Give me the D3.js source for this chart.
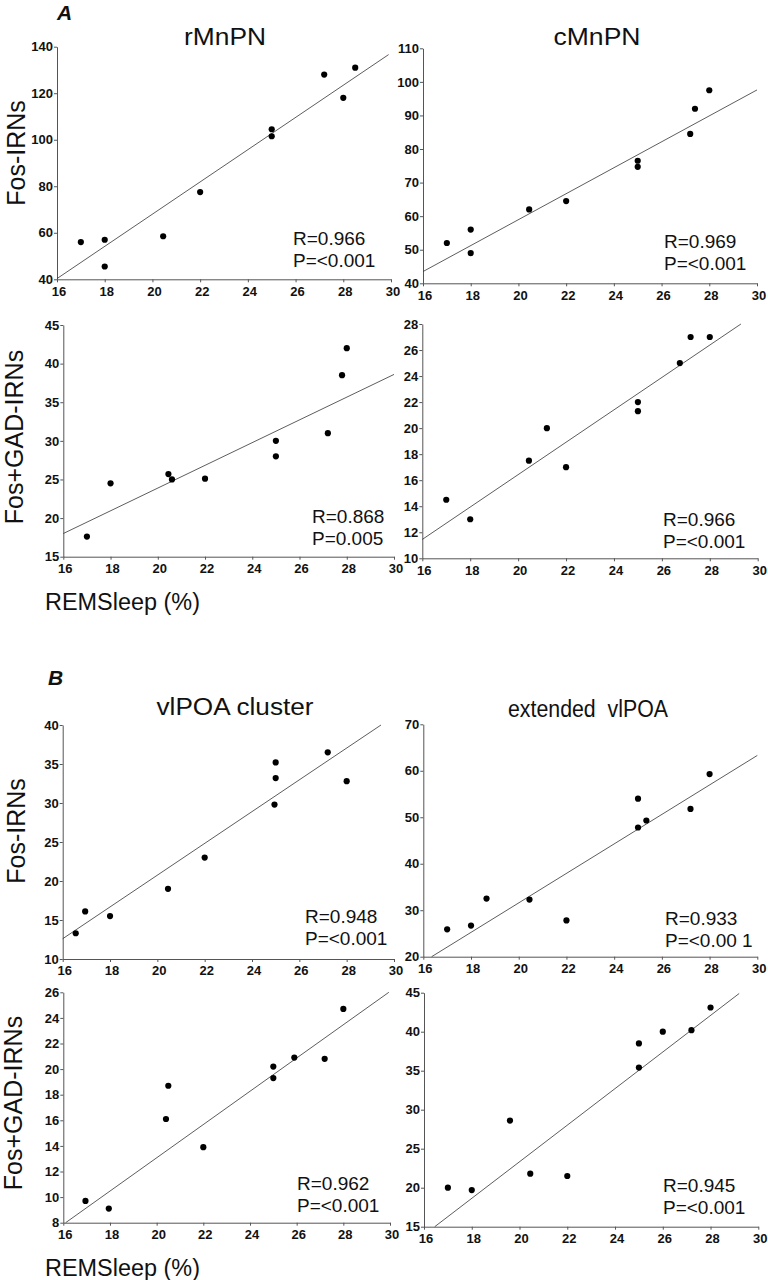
<!DOCTYPE html>
<html>
<head>
<meta charset="utf-8">
<script src="https://cdn.jsdelivr.net/npm/d3@7"></script>
<style>
  html, body { margin: 0; padding: 0; background: #fff; }
  svg { display: block; font-family: "Liberation Sans", Arial, sans-serif; }
</style>
</head>
<body>
<svg id="chart" width="768" height="1280"></svg>
<script>
// ---------- data ----------
const xTicks = [16, 18, 20, 22, 24, 26, 28, 30];

// A: rMnPN Fos-IRNs
const rMnPN_fos_x = [17, 18, 18, 20.45, 22, 25, 25, 27.2, 28, 28.5];
const rMnPN_fos_y = [56, 57, 45.5, 58.5, 77.5, 104.5, 101.5, 128, 118, 131];
const rMnPN_fos_fit = [[16, 40.3], [29.9, 136.6]];
const rMnPN_fos_yTicks = [40, 60, 80, 100, 120, 140];

// A: cMnPN Fos-IRNs
const cMnPN_fos_x = [17, 18, 18, 20.45, 22, 25, 25, 27.2, 27.4, 28];
const cMnPN_fos_y = [52, 56, 49, 62, 64.5, 76.5, 74.7, 84.5, 92, 97.5];
const cMnPN_fos_fit = [[16, 43.5], [30, 97.6]];
const cMnPN_fos_yTicks = [40, 50, 60, 70, 80, 90, 100, 110];

// A: rMnPN Fos+GAD-IRNs
const rMnPN_gad_x = [17, 18, 20.45, 20.6, 22, 25, 25, 27.2, 27.8, 28];
const rMnPN_gad_y = [17.6, 24.5, 25.7, 25, 25.1, 30, 28, 31, 38.5, 42];
const rMnPN_gad_fit = [[16, 18], [30, 38.6]];
const rMnPN_gad_yTicks = [15, 20, 25, 30, 35, 40, 45];

// A: cMnPN Fos+GAD-IRNs
const cMnPN_gad_x = [17, 18, 20.45, 21.2, 22, 25, 25, 26.75, 27.2, 28];
const cMnPN_gad_y = [14.5, 13, 17.5, 20, 17, 22, 21.3, 25, 27, 27];
const cMnPN_gad_fit = [[16, 11.45], [29.3, 28]];
const cMnPN_gad_yTicks = [10, 12, 14, 16, 18, 20, 22, 24, 26, 28];

// B: vlPOA cluster Fos-IRNs
const cluster_fos_x = [16.55, 16.95, 18, 20.45, 22, 24.95, 25, 25, 27.2, 28];
const cluster_fos_y = [13.3, 16.1, 15.5, 19, 23, 29.8, 33.2, 35.2, 36.5, 32.8];
const cluster_fos_fit = [[16, 12.6], [29.45, 40]];
const cluster_fos_yTicks = [10, 15, 20, 25, 30, 35, 40];

// B: extended vlPOA Fos-IRNs
const extended_fos_x = [17, 18, 18.65, 20.45, 22, 25, 25, 25.35, 27.2, 28];
const extended_fos_y = [25.9, 26.7, 32.5, 32.3, 27.8, 54, 47.8, 49.3, 51.8, 59.3];
const extended_fos_fit = [[16.35, 20], [30, 63.3]];
const extended_fos_yTicks = [20, 30, 40, 50, 60, 70];

// B: vlPOA cluster Fos+GAD-IRNs
const cluster_gad_x = [16.95, 17.95, 20.4, 20.5, 22, 25, 25, 25.9, 27.2, 28];
const cluster_gad_y = [9.7, 9.1, 16.1, 18.7, 13.9, 19.3, 20.2, 20.9, 20.8, 24.7];
const cluster_gad_fit = [[16.1, 8], [29.95, 26]];
const cluster_gad_yTicks = [8, 10, 12, 14, 16, 18, 20, 22, 24, 26];

// B: extended vlPOA Fos+GAD-IRNs
const extended_gad_x = [17, 18, 19.6, 20.45, 22, 25, 25, 26, 27.2, 28];
const extended_gad_y = [20, 19.7, 28.6, 21.8, 21.5, 38.5, 35.4, 40, 40.2, 43.1];
const extended_gad_fit = [[16.45, 15], [29.2, 44.9]];
const extended_gad_yTicks = [15, 20, 25, 30, 35, 40, 45];

const stats = [
  ["R=0.966", "P=<0.001"], ["R=0.969", "P=<0.001"],
  ["R=0.868", "P=0.005"],  ["R=0.966", "P=<0.001"],
  ["R=0.948", "P=<0.001"], ["R=0.933", "P=<0.00 1"],
  ["R=0.962", "P=<0.001"], ["R=0.945", "P=<0.001"]
];

// ---------- layout ----------
const panels = [
  { x: rMnPN_fos_x, y: rMnPN_fos_y, fit: rMnPN_fos_fit, yTicks: rMnPN_fos_yTicks,
    px: [57, 391], py: [279.3, 46.7], st: [293, 245] },
  { x: cMnPN_fos_x, y: cMnPN_fos_y, fit: cMnPN_fos_fit, yTicks: cMnPN_fos_yTicks,
    px: [423, 757], py: [283.3, 48.3], st: [664, 248] },
  { x: rMnPN_gad_x, y: rMnPN_gad_y, fit: rMnPN_gad_fit, yTicks: rMnPN_gad_yTicks,
    px: [63.3, 394], py: [556.7, 325], st: [312, 523] },
  { x: cMnPN_gad_x, y: cMnPN_gad_y, fit: cMnPN_gad_fit, yTicks: cMnPN_gad_yTicks,
    px: [422.3, 757.7], py: [558.3, 324], st: [663, 526] },
  { x: cluster_fos_x, y: cluster_fos_y, fit: cluster_fos_fit, yTicks: cluster_fos_yTicks,
    px: [62.7, 394], py: [959, 725], st: [305, 923] },
  { x: extended_fos_x, y: extended_fos_y, fit: extended_fos_fit, yTicks: extended_fos_yTicks,
    px: [423.3, 757.3], py: [956.7, 724.3], st: [665, 925] },
  { x: cluster_gad_x, y: cluster_gad_y, fit: cluster_gad_fit, yTicks: cluster_gad_yTicks,
    px: [63.3, 390], py: [1222.7, 992.3], st: [297, 1190] },
  { x: extended_gad_x, y: extended_gad_y, fit: extended_gad_fit, yTicks: extended_gad_yTicks,
    px: [424, 758.3], py: [1226.7, 992.7], st: [663, 1192] }
];

const FONT = '"Liberation Sans", Arial, sans-serif';
const svg = d3.select("#chart");

function styleTicks(a) {
  a.attr("font-family", FONT).attr("font-size", 13);
  a.selectAll(".tick text").attr("font-weight", "bold").attr("fill", "#111")
    .attr("font-size", 13).attr("font-family", FONT);
  a.select(".domain").attr("stroke", "#555").attr("stroke-width", 1);
  a.selectAll(".tick line").attr("stroke", "#555");
}

panels.forEach((p, i) => {
  const yT = p.yTicks;
  const xs = d3.scaleLinear().domain([xTicks[0], xTicks[xTicks.length - 1]]).range(p.px);
  const ys = d3.scaleLinear().domain([yT[0], yT[yT.length - 1]]).range(p.py);
  const g = svg.append("g");

  // x axis
  const gx = g.append("g")
    .attr("transform", `translate(0,${p.py[0]})`)
    .call(d3.axisBottom(xs).tickValues(xTicks).tickSize(3).tickSizeOuter(0).tickPadding(4).tickFormat(d3.format("d")));
  gx.selectAll("text").attr("dx", "1.5px");
  // y axis
  const gy = g.append("g")
    .attr("transform", `translate(${p.px[0]},0)`)
    .call(d3.axisLeft(ys).tickValues(yT).tickSize(3).tickSizeOuter(0).tickPadding(1).tickFormat(d3.format("d")));
  styleTicks(gx);
  styleTicks(gy);

  // regression line
  g.append("line")
    .attr("x1", xs(p.fit[0][0])).attr("y1", ys(p.fit[0][1]))
    .attr("x2", xs(p.fit[1][0])).attr("y2", ys(p.fit[1][1]))
    .attr("stroke", "#333").attr("stroke-width", 0.8);

  // points
  g.selectAll("circle").data(p.x.map((v, k) => [v, p.y[k]])).enter()
    .append("circle")
    .attr("cx", d => xs(d[0])).attr("cy", d => ys(d[1]))
    .attr("r", 3.1).attr("fill", "#000");

  // stats
  g.append("text").attr("x", p.st[0]).attr("y", p.st[1])
    .attr("font-size", 19).attr("fill", "#111").text(stats[i][0]);
  g.append("text").attr("x", p.st[0]).attr("y", p.st[1] + 22)
    .attr("font-size", 19).attr("fill", "#111").text(stats[i][1]);
});

// titles
const titles = [
  { t: "rMnPN", x: 225, y: 45, w: 82 },
  { t: "cMnPN", x: 597, y: 45, w: 87 },
  { t: "vlPOA cluster", x: 235, y: 715, w: 157 },
  { t: "extended\u00A0 vlPOA", x: 588, y: 716.5, w: 160 }
];
titles.forEach(d => {
  svg.append("text").attr("x", d.x - d.w / 2).attr("y", d.y)
    .attr("font-size", 23.5).attr("fill", "#111")
    .attr("textLength", d.w).attr("lengthAdjust", "spacingAndGlyphs")
    .text(d.t);
});

// panel letters
[["A", 57, 20], ["B", 48, 685]].forEach(d => {
  svg.append("text").attr("x", d[1]).attr("y", d[2])
    .attr("font-size", 21).attr("font-weight", "bold").attr("font-style", "italic")
    .attr("fill", "#111").text(d[0]);
});

// y axis labels
[["Fos-IRNs", 25, 153], ["Fos+GAD-IRNs", 23, 437], ["Fos-IRNs", 25, 831], ["Fos+GAD-IRNs", 22, 1103]]
  .forEach(d => {
    svg.append("text")
      .attr("transform", `translate(${d[1]},${d[2]}) rotate(-90)`)
      .attr("text-anchor", "middle").attr("font-size", 25).attr("fill", "#111")
      .text(d[0]);
  });

// x axis labels
[["REMSleep (%)", 45, 610], ["REMSleep (%)", 45, 1276]].forEach(d => {
  svg.append("text").attr("x", d[1]).attr("y", d[2])
    .attr("font-size", 23.5).attr("fill", "#111")
    .attr("textLength", 155).attr("lengthAdjust", "spacingAndGlyphs")
    .text(d[0]);
});
</script>
</body>
</html>
